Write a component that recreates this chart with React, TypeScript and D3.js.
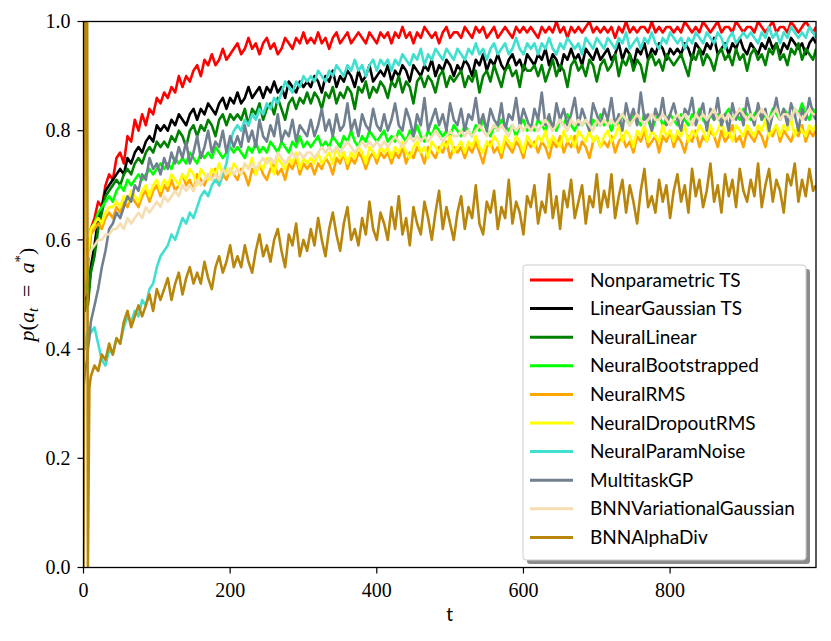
import React, { useEffect, useRef } from 'react';
import * as d3 from 'd3';

const tSteps = [
  0, 2, 5, 6, 8,
  10, 15, 20, 25, 30, 35, 40, 45, 50, 55, 60, 65, 70, 75, 80, 85, 90, 95, 100, 105,
  110, 115, 120, 125, 130, 135, 140, 145, 150, 155, 160, 165, 170, 175, 180, 185, 190, 195, 200, 205,
  210, 215, 220, 225, 230, 235, 240, 245, 250, 255, 260, 265, 270, 275, 280, 285, 290, 295, 300, 305,
  310, 315, 320, 325, 330, 335, 340, 345, 350, 355, 360, 365, 370, 375, 380, 385, 390, 395, 400, 405,
  410, 415, 420, 425, 430, 435, 440, 445, 450, 455, 460, 465, 470, 475, 480, 485, 490, 495, 500, 505,
  510, 515, 520, 525, 530, 535, 540, 545, 550, 555, 560, 565, 570, 575, 580, 585, 590, 595, 600, 605,
  610, 615, 620, 625, 630, 635, 640, 645, 650, 655, 660, 665, 670, 675, 680, 685, 690, 695, 700, 705,
  710, 715, 720, 725, 730, 735, 740, 745, 750, 755, 760, 765, 770, 775, 780, 785, 790, 795, 800, 805,
  810, 815, 820, 825, 830, 835, 840, 845, 850, 855, 860, 865, 870, 875, 880, 885, 890, 895, 900, 905,
  910, 915, 920, 925, 930, 935, 940, 945, 950, 955, 960, 965, 970, 975, 980, 985, 990, 995, 999,
];

const nonparametricTS = [
  0.50, 0.53, 0.56, 0.60, 0.58,
  0.62, 0.64, 0.67, 0.66, 0.70, 0.72, 0.71, 0.75, 0.76, 0.74, 0.79, 0.78, 0.82, 0.80, 0.83, 0.81, 0.84, 0.83, 0.86, 0.85,
  0.87, 0.86, 0.88, 0.87, 0.90, 0.88, 0.90, 0.89, 0.91, 0.92, 0.90, 0.93, 0.92, 0.94, 0.92, 0.93, 0.95, 0.93, 0.94, 0.95,
  0.96, 0.94, 0.95, 0.97, 0.95, 0.96, 0.94, 0.96, 0.97, 0.95, 0.96, 0.94, 0.95, 0.97, 0.96, 0.95, 0.97, 0.96, 0.98, 0.96,
  0.97, 0.96, 0.98, 0.96, 0.97, 0.95, 0.97, 0.98, 0.96, 0.97, 0.98, 0.96, 0.97, 0.98, 0.97, 0.96, 0.98, 0.97, 0.96, 0.98,
  0.97, 0.98, 0.96, 0.98, 0.97, 0.99, 0.97, 0.98, 0.96, 0.98, 0.97, 0.99, 0.98, 0.97, 0.98, 0.96, 0.98, 0.99, 0.97, 0.98,
  0.98, 0.97, 0.99, 0.98, 0.97, 0.99, 0.98, 0.99, 0.97, 0.98, 0.99, 0.97, 0.98, 0.99, 0.98, 0.97, 0.99, 0.98, 0.99, 0.98,
  0.99, 0.98, 0.97, 0.99, 0.98, 0.99, 0.98, 1.00, 0.98, 0.99, 0.97, 0.99, 0.98, 0.99, 0.98, 0.99, 1.00, 0.98, 0.99, 0.98,
  0.99, 0.98, 0.99, 0.97, 0.99, 0.98, 1.00, 0.98, 0.99, 0.98, 0.99, 0.99, 0.98, 1.00, 0.98, 0.99, 0.98, 0.99, 0.99, 0.98,
  0.99, 0.98, 1.00, 0.99, 0.98, 0.99, 0.98, 1.00, 0.99, 0.98, 0.99, 1.00, 0.98, 0.99, 0.99, 0.98, 1.00, 0.99, 0.98, 0.99,
  0.99, 0.98, 1.00, 0.99, 0.98, 0.99, 1.00, 0.98, 0.99, 0.99, 0.98, 1.00, 0.99, 0.98, 0.99, 1.00, 0.99, 0.98, 0.99,
];

const linearGaussianTS = [
  0.50, 0.48, 0.50, 0.49, 0.52,
  0.55, 0.59, 0.64, 0.66, 0.69, 0.70, 0.71, 0.72, 0.73, 0.72, 0.75, 0.74, 0.76, 0.77, 0.76, 0.78, 0.79, 0.78, 0.81, 0.80,
  0.81, 0.80, 0.82, 0.81, 0.83, 0.82, 0.81, 0.83, 0.84, 0.82, 0.84, 0.83, 0.85, 0.84, 0.83, 0.85, 0.86, 0.84, 0.86, 0.85,
  0.87, 0.85, 0.86, 0.88, 0.86, 0.87, 0.88, 0.86, 0.88, 0.87, 0.89, 0.87, 0.88, 0.86, 0.89, 0.88, 0.87, 0.89, 0.88, 0.89,
  0.88, 0.90, 0.89, 0.87, 0.90, 0.89, 0.91, 0.88, 0.90, 0.89, 0.91, 0.90, 0.88, 0.91, 0.89, 0.90, 0.92, 0.89, 0.90, 0.91,
  0.90, 0.92, 0.89, 0.91, 0.90, 0.92, 0.91, 0.89, 0.92, 0.91, 0.90, 0.92, 0.91, 0.93, 0.90, 0.92, 0.91, 0.93, 0.92, 0.90,
  0.92, 0.91, 0.93, 0.92, 0.90, 0.93, 0.92, 0.94, 0.91, 0.93, 0.92, 0.94, 0.92, 0.91, 0.93, 0.94, 0.92, 0.93, 0.91, 0.94,
  0.93, 0.92, 0.94, 0.93, 0.95, 0.92, 0.94, 0.93, 0.91, 0.94, 0.93, 0.95, 0.93, 0.94, 0.92, 0.95, 0.94, 0.93, 0.95, 0.93,
  0.94, 0.95, 0.93, 0.94, 0.96, 0.93, 0.95, 0.94, 0.92, 0.95, 0.94, 0.96, 0.93, 0.95, 0.94, 0.96, 0.95, 0.93, 0.95, 0.94,
  0.95, 0.94, 0.96, 0.95, 0.93, 0.96, 0.95, 0.94, 0.96, 0.95, 0.97, 0.94, 0.95, 0.96, 0.94, 0.96, 0.95, 0.97, 0.95, 0.94,
  0.96, 0.95, 0.94, 0.96, 0.95, 0.97, 0.95, 0.96, 0.94, 0.96, 0.95, 0.97, 0.96, 0.95, 0.96, 0.94, 0.96, 0.97, 0.96,
];

const neuralLinear = [
  0.50, 0.47, 0.49, 0.48, 0.51,
  0.54, 0.57, 0.62, 0.65, 0.68, 0.69, 0.70, 0.71, 0.70, 0.72, 0.73, 0.72, 0.74, 0.75, 0.74, 0.76, 0.77, 0.76, 0.78, 0.77,
  0.78, 0.77, 0.79, 0.78, 0.80, 0.79, 0.77, 0.80, 0.81, 0.79, 0.81, 0.80, 0.82, 0.81, 0.79, 0.82, 0.83, 0.81, 0.83, 0.82,
  0.83, 0.82, 0.84, 0.81, 0.84, 0.83, 0.85, 0.82, 0.84, 0.85, 0.83, 0.86, 0.84, 0.82, 0.85, 0.86, 0.84, 0.86, 0.85, 0.87,
  0.85, 0.87, 0.86, 0.84, 0.87, 0.86, 0.88, 0.85, 0.87, 0.86, 0.88, 0.87, 0.84, 0.88, 0.87, 0.89, 0.86, 0.88, 0.87, 0.89,
  0.88, 0.86, 0.89, 0.88, 0.90, 0.87, 0.89, 0.88, 0.85, 0.89, 0.90, 0.88, 0.90, 0.89, 0.87, 0.90, 0.91, 0.88, 0.90, 0.89,
  0.90, 0.91, 0.88, 0.90, 0.89, 0.91, 0.87, 0.90, 0.91, 0.89, 0.92, 0.90, 0.88, 0.91, 0.92, 0.90, 0.91, 0.88, 0.92, 0.91,
  0.91, 0.92, 0.90, 0.92, 0.89, 0.91, 0.93, 0.90, 0.92, 0.91, 0.88, 0.92, 0.93, 0.91, 0.92, 0.90, 0.93, 0.92, 0.89, 0.92,
  0.93, 0.91, 0.92, 0.94, 0.90, 0.93, 0.92, 0.94, 0.91, 0.93, 0.92, 0.89, 0.93, 0.94, 0.92, 0.93, 0.91, 0.94, 0.93, 0.92,
  0.93, 0.94, 0.92, 0.90, 0.94, 0.93, 0.95, 0.92, 0.94, 0.93, 0.91, 0.94, 0.95, 0.93, 0.94, 0.92, 0.95, 0.93, 0.94, 0.91,
  0.94, 0.95, 0.93, 0.94, 0.92, 0.95, 0.94, 0.96, 0.93, 0.94, 0.92, 0.95, 0.94, 0.96, 0.93, 0.95, 0.94, 0.93, 0.95,
];

const neuralBootstrapped = [
  0.52, 0.50, 0.53, 0.55, 0.58,
  0.62, 0.63, 0.65, 0.66, 0.67, 0.68, 0.67, 0.69, 0.70, 0.69, 0.71, 0.70, 0.71, 0.72, 0.71, 0.72, 0.73, 0.72, 0.73, 0.74,
  0.73, 0.74, 0.73, 0.75, 0.74, 0.75, 0.74, 0.76, 0.75, 0.74, 0.76, 0.75, 0.76, 0.75, 0.77, 0.76, 0.75, 0.76, 0.77, 0.76,
  0.77, 0.76, 0.75, 0.77, 0.76, 0.78, 0.76, 0.77, 0.76, 0.78, 0.77, 0.76, 0.78, 0.77, 0.76, 0.78, 0.77, 0.79, 0.77, 0.78,
  0.77, 0.78, 0.79, 0.77, 0.78, 0.77, 0.79, 0.78, 0.77, 0.79, 0.78, 0.80, 0.78, 0.77, 0.79, 0.78, 0.80, 0.79, 0.78, 0.79,
  0.80, 0.78, 0.79, 0.78, 0.80, 0.79, 0.78, 0.80, 0.79, 0.81, 0.79, 0.78, 0.80, 0.79, 0.81, 0.80, 0.79, 0.80, 0.79, 0.81,
  0.80, 0.79, 0.81, 0.80, 0.79, 0.81, 0.80, 0.82, 0.80, 0.79, 0.81, 0.80, 0.82, 0.81, 0.80, 0.81, 0.79, 0.81, 0.82, 0.80,
  0.81, 0.80, 0.82, 0.81, 0.80, 0.82, 0.81, 0.80, 0.82, 0.81, 0.83, 0.81, 0.80, 0.82, 0.81, 0.82, 0.80, 0.82, 0.81, 0.83,
  0.81, 0.82, 0.80, 0.82, 0.81, 0.83, 0.82, 0.81, 0.83, 0.82, 0.81, 0.83, 0.82, 0.80, 0.82, 0.83, 0.81, 0.82, 0.83, 0.82,
  0.81, 0.83, 0.82, 0.81, 0.83, 0.82, 0.84, 0.82, 0.81, 0.83, 0.82, 0.83, 0.81, 0.83, 0.84, 0.82, 0.83, 0.82, 0.84, 0.83,
  0.82, 0.83, 0.84, 0.82, 0.83, 0.82, 0.84, 0.83, 0.82, 0.84, 0.83, 0.82, 0.84, 0.83, 0.85, 0.83, 0.82, 0.84, 0.83,
];

const neuralRMS = [
  0.54, 0.52, 0.55, 0.57, 0.59,
  0.61, 0.62, 0.63, 0.62, 0.64, 0.65, 0.64, 0.66, 0.65, 0.67, 0.66, 0.68, 0.67, 0.66, 0.68, 0.69, 0.67, 0.69, 0.70, 0.68,
  0.70, 0.69, 0.71, 0.69, 0.70, 0.72, 0.70, 0.71, 0.69, 0.72, 0.71, 0.70, 0.72, 0.71, 0.73, 0.70, 0.72, 0.71, 0.73, 0.72,
  0.71, 0.73, 0.72, 0.70, 0.73, 0.72, 0.74, 0.72, 0.71, 0.73, 0.74, 0.72, 0.73, 0.71, 0.74, 0.73, 0.75, 0.72, 0.74, 0.73,
  0.74, 0.72, 0.74, 0.73, 0.75, 0.74, 0.72, 0.75, 0.74, 0.76, 0.73, 0.75, 0.74, 0.76, 0.75, 0.73, 0.75, 0.76, 0.74, 0.76,
  0.75, 0.76, 0.74, 0.76, 0.75, 0.77, 0.74, 0.76, 0.75, 0.77, 0.76, 0.74, 0.77, 0.76, 0.75, 0.77, 0.76, 0.78, 0.75, 0.77,
  0.76, 0.77, 0.75, 0.77, 0.76, 0.78, 0.76, 0.74, 0.77, 0.78, 0.76, 0.77, 0.75, 0.78, 0.77, 0.76, 0.78, 0.77, 0.75, 0.78,
  0.77, 0.78, 0.76, 0.78, 0.77, 0.75, 0.78, 0.77, 0.79, 0.76, 0.78, 0.77, 0.79, 0.76, 0.78, 0.77, 0.75, 0.78, 0.79, 0.77,
  0.78, 0.77, 0.79, 0.76, 0.78, 0.79, 0.77, 0.78, 0.76, 0.79, 0.78, 0.80, 0.77, 0.78, 0.79, 0.76, 0.79, 0.78, 0.80, 0.77,
  0.79, 0.78, 0.76, 0.79, 0.78, 0.80, 0.77, 0.79, 0.78, 0.80, 0.79, 0.77, 0.80, 0.78, 0.79, 0.81, 0.78, 0.79, 0.77, 0.80,
  0.79, 0.78, 0.80, 0.79, 0.77, 0.80, 0.79, 0.81, 0.78, 0.80, 0.79, 0.78, 0.80, 0.79, 0.81, 0.78, 0.80, 0.79, 0.80,
];

const neuralDropoutRMS = [
  0.55, 0.53, 0.56, 0.58, 0.60,
  0.62, 0.63, 0.64, 0.63, 0.65, 0.66, 0.66, 0.67, 0.66, 0.68, 0.67, 0.69, 0.68, 0.67, 0.69, 0.70, 0.68, 0.70, 0.71, 0.69,
  0.71, 0.70, 0.72, 0.71, 0.70, 0.72, 0.71, 0.73, 0.72, 0.70, 0.73, 0.72, 0.71, 0.73, 0.72, 0.74, 0.72, 0.73, 0.72, 0.74,
  0.73, 0.72, 0.74, 0.73, 0.75, 0.72, 0.74, 0.73, 0.75, 0.74, 0.72, 0.75, 0.74, 0.73, 0.75, 0.74, 0.76, 0.73, 0.75, 0.74,
  0.75, 0.74, 0.76, 0.74, 0.75, 0.76, 0.74, 0.77, 0.75, 0.76, 0.74, 0.76, 0.75, 0.77, 0.76, 0.74, 0.77, 0.76, 0.75, 0.77,
  0.76, 0.77, 0.75, 0.77, 0.76, 0.78, 0.76, 0.75, 0.77, 0.78, 0.76, 0.77, 0.75, 0.78, 0.77, 0.76, 0.78, 0.77, 0.79, 0.76,
  0.77, 0.78, 0.76, 0.78, 0.77, 0.79, 0.77, 0.76, 0.78, 0.77, 0.79, 0.78, 0.76, 0.79, 0.78, 0.77, 0.79, 0.78, 0.76, 0.79,
  0.78, 0.77, 0.79, 0.78, 0.80, 0.77, 0.79, 0.78, 0.77, 0.80, 0.78, 0.79, 0.77, 0.80, 0.79, 0.78, 0.80, 0.78, 0.79, 0.77,
  0.79, 0.80, 0.78, 0.79, 0.81, 0.78, 0.80, 0.79, 0.77, 0.80, 0.79, 0.81, 0.78, 0.80, 0.79, 0.78, 0.81, 0.79, 0.80, 0.78,
  0.80, 0.79, 0.81, 0.78, 0.80, 0.79, 0.81, 0.80, 0.78, 0.81, 0.79, 0.80, 0.82, 0.79, 0.80, 0.78, 0.81, 0.80, 0.79, 0.81,
  0.80, 0.79, 0.81, 0.80, 0.82, 0.79, 0.80, 0.81, 0.79, 0.81, 0.80, 0.82, 0.79, 0.81, 0.80, 0.79, 0.81, 0.80, 0.81,
];

const neuralParamNoise = [
  0.42, 0.40, 0.43, 0.41, 0.44,
  0.43, 0.44, 0.41, 0.38, 0.37, 0.40, 0.39, 0.42, 0.41, 0.44, 0.46, 0.45, 0.47, 0.46, 0.49, 0.48, 0.51, 0.52, 0.55, 0.57,
  0.58, 0.59, 0.61, 0.60, 0.62, 0.64, 0.63, 0.65, 0.64, 0.66, 0.68, 0.69, 0.68, 0.70, 0.71, 0.70, 0.72, 0.74, 0.78, 0.80,
  0.81, 0.80, 0.82, 0.81, 0.83, 0.82, 0.84, 0.83, 0.85, 0.84, 0.86, 0.85, 0.87, 0.89, 0.88, 0.87, 0.89, 0.88, 0.90, 0.89,
  0.90, 0.89, 0.91, 0.90, 0.89, 0.91, 0.90, 0.92, 0.91, 0.90, 0.92, 0.91, 0.93, 0.91, 0.92, 0.90, 0.92, 0.93, 0.91, 0.93,
  0.92, 0.93, 0.91, 0.93, 0.92, 0.94, 0.93, 0.92, 0.94, 0.93, 0.95, 0.92, 0.94, 0.93, 0.95, 0.94, 0.93, 0.95, 0.94, 0.93,
  0.95, 0.94, 0.93, 0.95, 0.94, 0.96, 0.94, 0.95, 0.93, 0.95, 0.96, 0.94, 0.95, 0.96, 0.94, 0.95, 0.97, 0.95, 0.94, 0.96,
  0.95, 0.96, 0.94, 0.96, 0.95, 0.97, 0.95, 0.94, 0.96, 0.95, 0.97, 0.96, 0.95, 0.96, 0.94, 0.97, 0.96, 0.95, 0.97, 0.96,
  0.95, 0.97, 0.96, 0.95, 0.97, 0.96, 0.98, 0.95, 0.96, 0.97, 0.95, 0.97, 0.96, 0.98, 0.96, 0.95, 0.97, 0.96, 0.98, 0.97,
  0.96, 0.97, 0.95, 0.97, 0.96, 0.98, 0.97, 0.96, 0.98, 0.97, 0.96, 0.98, 0.97, 0.95, 0.97, 0.98, 0.96, 0.97, 0.98, 0.97,
  0.98, 0.97, 0.96, 0.98, 0.97, 0.99, 0.97, 0.98, 0.96, 0.98, 0.97, 0.99, 0.98, 0.97, 0.98, 0.97, 0.99, 0.98, 0.97,
];

const multitaskGP = [
  0.33, 0.36, 0.38, 0.40, 0.42,
  0.45, 0.48, 0.51, 0.55, 0.58, 0.62, 0.63, 0.65, 0.64, 0.66, 0.68, 0.67, 0.70, 0.69, 0.72, 0.71, 0.75, 0.73, 0.74, 0.72,
  0.75, 0.73, 0.76, 0.74, 0.77, 0.75, 0.78, 0.74, 0.76, 0.79, 0.75, 0.77, 0.80, 0.76, 0.78, 0.77, 0.80, 0.76, 0.79, 0.77,
  0.79, 0.77, 0.81, 0.78, 0.80, 0.77, 0.82, 0.79, 0.78, 0.81, 0.79, 0.83, 0.78, 0.80, 0.79, 0.82, 0.78, 0.81, 0.80, 0.79,
  0.82, 0.79, 0.81, 0.84, 0.80, 0.82, 0.79, 0.83, 0.80, 0.81, 0.85, 0.80, 0.82, 0.79, 0.83, 0.81, 0.80, 0.84, 0.81, 0.80,
  0.83, 0.80, 0.82, 0.85, 0.81, 0.80, 0.84, 0.82, 0.79, 0.83, 0.81, 0.86, 0.80, 0.82, 0.84, 0.81, 0.83, 0.80, 0.85, 0.82,
  0.81, 0.84, 0.80, 0.83, 0.82, 0.86, 0.81, 0.83, 0.80, 0.84, 0.82, 0.81, 0.85, 0.80, 0.83, 0.82, 0.86, 0.81, 0.84, 0.82,
  0.80, 0.84, 0.82, 0.87, 0.81, 0.83, 0.80, 0.85, 0.82, 0.84, 0.81, 0.83, 0.86, 0.81, 0.84, 0.82, 0.80, 0.85, 0.83, 0.81,
  0.84, 0.82, 0.86, 0.81, 0.83, 0.80, 0.85, 0.82, 0.84, 0.81, 0.87, 0.82, 0.83, 0.80, 0.84, 0.82, 0.86, 0.81, 0.83, 0.85,
  0.82, 0.80, 0.84, 0.83, 0.86, 0.81, 0.83, 0.85, 0.80, 0.84, 0.82, 0.86, 0.81, 0.83, 0.80, 0.85, 0.82, 0.84, 0.81, 0.86,
  0.83, 0.81, 0.85, 0.82, 0.84, 0.80, 0.83, 0.86, 0.82, 0.84, 0.81, 0.85, 0.83, 0.80, 0.84, 0.82, 0.86, 0.83, 0.82,
];

const bnnVariationalGaussian = [
  0.53, 0.55, 0.56, 0.57, 0.57,
  0.58, 0.59, 0.60, 0.60, 0.61, 0.61, 0.62, 0.62, 0.63, 0.62, 0.64, 0.63, 0.64, 0.65, 0.64, 0.66, 0.65, 0.66, 0.67, 0.66,
  0.68, 0.67, 0.68, 0.69, 0.68, 0.70, 0.69, 0.70, 0.69, 0.71, 0.70, 0.71, 0.72, 0.71, 0.72, 0.71, 0.73, 0.72, 0.73, 0.72,
  0.73, 0.72, 0.74, 0.73, 0.74, 0.73, 0.74, 0.75, 0.74, 0.75, 0.74, 0.76, 0.75, 0.74, 0.75, 0.76, 0.75, 0.76, 0.75, 0.76,
  0.76, 0.75, 0.76, 0.77, 0.76, 0.77, 0.76, 0.77, 0.76, 0.77, 0.78, 0.77, 0.76, 0.77, 0.78, 0.77, 0.78, 0.77, 0.78, 0.77,
  0.78, 0.77, 0.78, 0.79, 0.78, 0.77, 0.78, 0.79, 0.78, 0.79, 0.78, 0.79, 0.78, 0.79, 0.80, 0.79, 0.78, 0.79, 0.80, 0.79,
  0.79, 0.80, 0.79, 0.80, 0.79, 0.80, 0.81, 0.80, 0.79, 0.80, 0.81, 0.80, 0.81, 0.80, 0.79, 0.81, 0.80, 0.81, 0.80, 0.81,
  0.80, 0.81, 0.80, 0.81, 0.82, 0.81, 0.80, 0.81, 0.82, 0.81, 0.80, 0.82, 0.81, 0.82, 0.81, 0.82, 0.81, 0.80, 0.82, 0.81,
  0.82, 0.81, 0.82, 0.81, 0.82, 0.83, 0.82, 0.81, 0.82, 0.83, 0.82, 0.81, 0.82, 0.83, 0.82, 0.82, 0.83, 0.82, 0.81, 0.82,
  0.83, 0.82, 0.83, 0.82, 0.81, 0.83, 0.82, 0.83, 0.82, 0.83, 0.84, 0.82, 0.83, 0.82, 0.83, 0.82, 0.83, 0.84, 0.83, 0.82,
  0.83, 0.82, 0.83, 0.84, 0.83, 0.82, 0.83, 0.84, 0.82, 0.83, 0.83, 0.82, 0.84, 0.83, 0.82, 0.83, 0.84, 0.83, 0.83,
];

const bnnAlphaDiv = [
  0.00, 1.00, 1.00, 0.00, 0.33,
  0.35, 0.37, 0.36, 0.39, 0.38, 0.41, 0.39, 0.42, 0.41, 0.45, 0.47, 0.44, 0.46, 0.48, 0.46, 0.48, 0.50, 0.47, 0.51, 0.49,
  0.51, 0.53, 0.49, 0.52, 0.54, 0.50, 0.53, 0.55, 0.52, 0.54, 0.52, 0.56, 0.53, 0.51, 0.55, 0.57, 0.54, 0.56, 0.59, 0.55,
  0.57, 0.55, 0.59, 0.56, 0.54, 0.58, 0.61, 0.57, 0.59, 0.56, 0.60, 0.62, 0.58, 0.55, 0.61, 0.59, 0.63, 0.57, 0.60, 0.58,
  0.62, 0.59, 0.64, 0.60, 0.57, 0.62, 0.65, 0.61, 0.58, 0.63, 0.66, 0.60, 0.62, 0.59, 0.64, 0.61, 0.67, 0.62, 0.60, 0.65,
  0.63, 0.60, 0.66, 0.62, 0.68, 0.61, 0.64, 0.59, 0.66, 0.63, 0.61, 0.67, 0.64, 0.60, 0.65, 0.69, 0.62, 0.66, 0.63, 0.60,
  0.65, 0.68, 0.62, 0.66, 0.64, 0.70, 0.63, 0.61, 0.67, 0.65, 0.69, 0.62, 0.66, 0.64, 0.71, 0.63, 0.67, 0.65, 0.61, 0.68,
  0.66, 0.70, 0.63, 0.67, 0.65, 0.72, 0.64, 0.68, 0.62, 0.69, 0.66, 0.71, 0.64, 0.67, 0.70, 0.63, 0.68, 0.66, 0.72, 0.65,
  0.69, 0.66, 0.72, 0.64, 0.68, 0.71, 0.65, 0.70, 0.67, 0.63, 0.69, 0.73, 0.66, 0.68, 0.65, 0.71, 0.67, 0.70, 0.64, 0.69,
  0.72, 0.67, 0.70, 0.65, 0.73, 0.68, 0.71, 0.66, 0.69, 0.74, 0.67, 0.70, 0.65, 0.72, 0.68, 0.71, 0.66, 0.73, 0.69, 0.67,
  0.71, 0.68, 0.74, 0.66, 0.70, 0.73, 0.67, 0.71, 0.69, 0.65, 0.72, 0.70, 0.74, 0.67, 0.71, 0.68, 0.73, 0.69, 0.70,
];

const seriesNames = [
  'Nonparametric TS', 'LinearGaussian TS', 'NeuralLinear', 'NeuralBootstrapped', 'NeuralRMS',
  'NeuralDropoutRMS', 'NeuralParamNoise', 'MultitaskGP', 'BNNVariationalGaussian', 'BNNAlphaDiv',
];
const seriesValues = [
  nonparametricTS, linearGaussianTS, neuralLinear, neuralBootstrapped, neuralRMS,
  neuralDropoutRMS, neuralParamNoise, multitaskGP, bnnVariationalGaussian, bnnAlphaDiv,
];
const seriesColors = [
  'red', 'black', 'green', 'lime', 'orange',
  'yellow', 'turquoise', 'slategray', 'wheat', 'darkgoldenrod',
];

const xTicks = [0, 200, 400, 600, 800];
const yTicks = [0, 0.2, 0.4, 0.6, 0.8, 1.0];

const Chart = () => {
  const svgRef = useRef<SVGSVGElement | null>(null);

  useEffect(() => {
    if (!svgRef.current) return;
    const width = 831;
    const height = 641;
    const plot = { left: 83.5, right: 816, top: 21.5, bottom: 567.5 };

    const svg = d3.select(svgRef.current);
    svg.attr('width', width).attr('height', height);
    svg.selectAll('*').remove();

    const x = d3.scaleLinear().domain([0, 999]).range([plot.left, plot.right]);
    const y = d3.scaleLinear().domain([0, 1]).range([plot.bottom, plot.top]);

    svg.append('rect').attr('width', width).attr('height', height).attr('fill', 'white');

    svg.append('clipPath').attr('id', 'plot-clip')
      .append('rect')
      .attr('x', plot.left).attr('y', plot.top)
      .attr('width', plot.right - plot.left).attr('height', plot.bottom - plot.top);

    // series lines, drawn in legend order (last on top)
    const line = d3.line<number>()
      .x((_, i) => x(tSteps[i]))
      .y(d => y(d));

    const lines = svg.append('g').attr('clip-path', 'url(#plot-clip)');
    seriesValues.forEach((vals, i) => {
      lines.append('path')
        .attr('d', line(vals))
        .attr('fill', 'none')
        .attr('stroke', seriesColors[i])
        .attr('stroke-width', 2.6)
        .attr('stroke-linejoin', 'round');
    });

    // frame
    svg.append('rect')
      .attr('x', plot.left).attr('y', plot.top)
      .attr('width', plot.right - plot.left).attr('height', plot.bottom - plot.top)
      .attr('fill', 'none').attr('stroke', 'black').attr('stroke-width', 1.3);

    // y ticks
    yTicks.forEach(tick => {
      svg.append('line')
        .attr('x1', plot.left - 6).attr('x2', plot.left)
        .attr('y1', y(tick)).attr('y2', y(tick))
        .attr('stroke', 'black').attr('stroke-width', 1.2);
      svg.append('text')
        .attr('x', plot.left - 13)
        .attr('y', y(tick))
        .attr('dy', '0.33em')
        .attr('text-anchor', 'end')
        .style('font-family', 'Liberation Serif')
        .style('font-size', '20px')
        .text(tick.toFixed(1));
    });

    // x ticks
    xTicks.forEach(tick => {
      svg.append('line')
        .attr('x1', x(tick)).attr('x2', x(tick))
        .attr('y1', plot.bottom).attr('y2', plot.bottom + 6)
        .attr('stroke', 'black').attr('stroke-width', 1.2);
      svg.append('text')
        .attr('x', x(tick))
        .attr('y', 597)
        .attr('text-anchor', 'middle')
        .style('font-family', 'Liberation Serif')
        .style('font-size', '20px')
        .text(tick);
    });

    // x label
    svg.append('text')
      .attr('x', (plot.left + plot.right) / 2)
      .attr('y', 621)
      .attr('text-anchor', 'middle')
      .style('font-family', 'Lato')
      .style('font-size', '19px')
      .text('t');

    // y label p(a_t = a*)
    const yl = svg.append('text')
      .attr('transform', `translate(34, ${(plot.top + plot.bottom) / 2}) rotate(-90)`)
      .attr('text-anchor', 'middle')
      .style('font-family', 'Liberation Serif')
      .style('font-size', '22px');
    yl.append('tspan').style('font-style', 'italic').text('p');
    yl.append('tspan').text('(');
    yl.append('tspan').style('font-style', 'italic').text('a');
    yl.append('tspan').style('font-style', 'italic').style('font-size', '15px').attr('dy', 4).text('t');
    yl.append('tspan').attr('dy', -4).text('\u2002=\u2002');
    yl.append('tspan').style('font-style', 'italic').text('a');
    yl.append('tspan').style('font-size', '15px').attr('dy', -9).text('*');
    yl.append('tspan').attr('dy', 9).text(')');

    // legend
    const lg = { x: 523, y: 265, w: 283, h: 295 };
    svg.append('rect')
      .attr('x', lg.x + 4).attr('y', lg.y + 4)
      .attr('width', lg.w).attr('height', lg.h)
      .attr('rx', 3).attr('fill', '#8c8c8c');
    svg.append('rect')
      .attr('x', lg.x).attr('y', lg.y)
      .attr('width', lg.w).attr('height', lg.h)
      .attr('rx', 3).attr('fill', 'white')
      .attr('stroke', '#cccccc').attr('stroke-width', 1);

    seriesNames.forEach((name, i) => {
      const cy = 280 + i * 28.6;
      svg.append('line')
        .attr('x1', 530).attr('x2', 573)
        .attr('y1', cy).attr('y2', cy)
        .attr('stroke', seriesColors[i])
        .attr('stroke-width', 3);
      svg.append('text')
        .attr('x', 590)
        .attr('y', cy)
        .attr('dy', '0.35em')
        .style('font-family', 'Lato')
        .style('font-size', '19px')
        .text(name);
    });
  }, []);

  return (
    <div style={{ position: 'absolute', left: 0, top: 0 }}>
      <svg ref={svgRef}></svg>
    </div>
  );
};

export default function App() {
  return <Chart />;
}
